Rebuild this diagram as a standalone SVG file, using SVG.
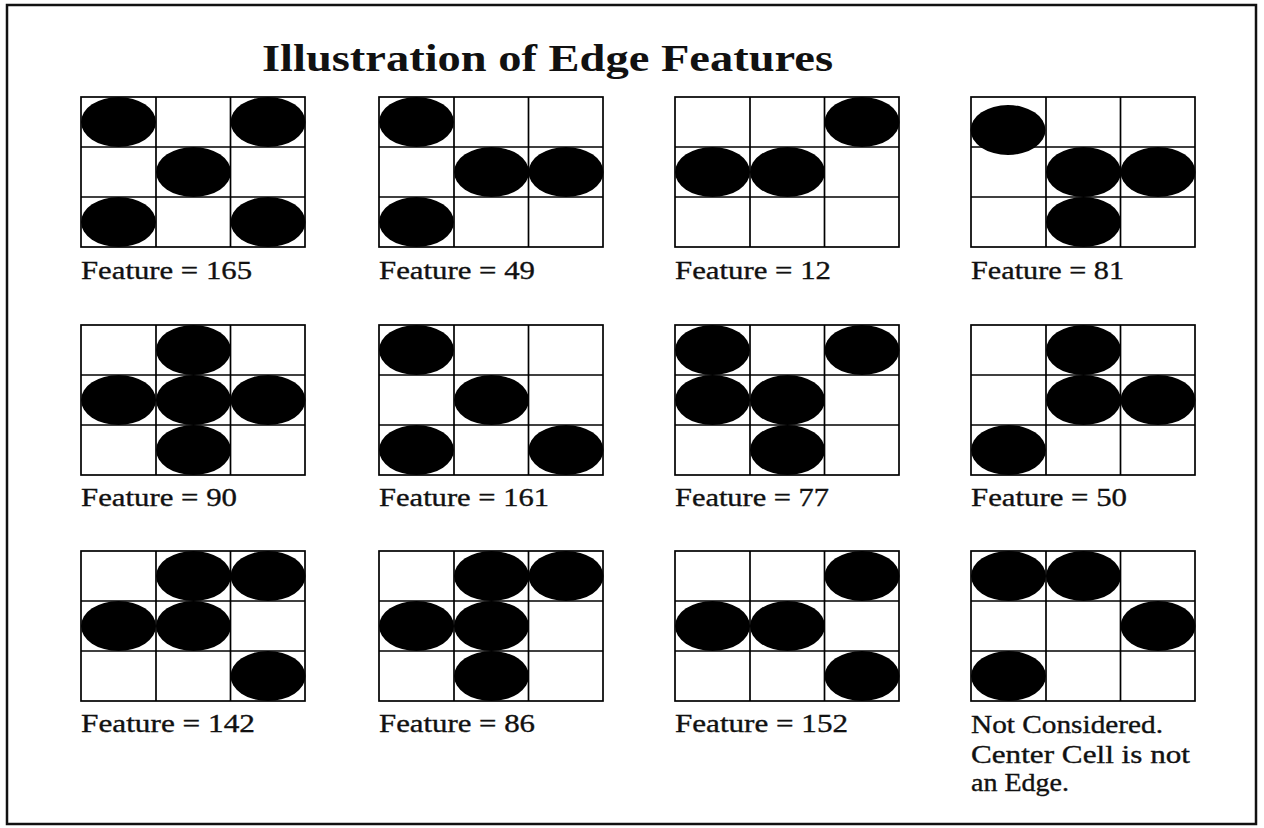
<svg xmlns="http://www.w3.org/2000/svg" width="1264" height="828" viewBox="0 0 1264 828">
<style>
.grid{fill:#fff;stroke:#000;stroke-width:1.7}
.gl{stroke:#000;stroke-width:1.7}
.dot{fill:#000}
.lbl{font-family:"Liberation Serif",serif;font-size:26px;fill:#111;stroke:#111;stroke-width:0.35}
.title{font-family:"Liberation Serif",serif;font-size:38px;font-weight:bold;fill:#111}
</style>
<defs>
<g id="g3">
<rect class="grid" x="0" y="0" width="224" height="150"/>
<line class="gl" x1="75" y1="0" x2="75" y2="150"/>
<line class="gl" x1="149.5" y1="0" x2="149.5" y2="150"/>
<line class="gl" x1="0" y1="50" x2="224" y2="50"/>
<line class="gl" x1="0" y1="100" x2="224" y2="100"/>
</g>
<ellipse id="d" class="dot" cx="0" cy="0" rx="37.5" ry="25"/>
</defs>
<rect x="0" y="0" width="1264" height="828" fill="#fff"/>
<rect x="7" y="5" width="1249" height="819" fill="none" stroke="#111" stroke-width="2.5"/>
<text class="title" x="262" y="71" textLength="571" lengthAdjust="spacingAndGlyphs">Illustration of Edge Features</text>

<g id="f165" transform="translate(81,97)">
<use href="#g3"/>
<use href="#d" x="37.5" y="25"/><use href="#d" x="187" y="25"/><use href="#d" x="112.5" y="75"/><use href="#d" x="37.5" y="125"/><use href="#d" x="187" y="125"/>
<text class="lbl" x="0" y="182" textLength="171" lengthAdjust="spacingAndGlyphs">Feature = 165</text>
</g>
<g id="f49" transform="translate(379,97)">
<use href="#g3"/>
<use href="#d" x="37.5" y="25"/><use href="#d" x="112.5" y="75"/><use href="#d" x="187" y="75"/><use href="#d" x="37.5" y="125"/>
<text class="lbl" x="0" y="182" textLength="156" lengthAdjust="spacingAndGlyphs">Feature = 49</text>
</g>
<g id="f12" transform="translate(675,97)">
<use href="#g3"/>
<use href="#d" x="187" y="25"/><use href="#d" x="37.5" y="75"/><use href="#d" x="112.5" y="75"/>
<text class="lbl" x="0" y="182" textLength="156" lengthAdjust="spacingAndGlyphs">Feature = 12</text>
</g>
<g id="f81" transform="translate(971,97)">
<use href="#g3"/>
<use href="#d" x="37" y="33"/><use href="#d" x="112.5" y="75"/><use href="#d" x="187" y="75"/><use href="#d" x="112.5" y="125"/>
<text class="lbl" x="0" y="182" textLength="153" lengthAdjust="spacingAndGlyphs">Feature = 81</text>
</g>

<g id="f90" transform="translate(81,325)">
<use href="#g3"/>
<use href="#d" x="112.5" y="25"/><use href="#d" x="37.5" y="75"/><use href="#d" x="112.5" y="75"/><use href="#d" x="187" y="75"/><use href="#d" x="112.5" y="125"/>
<text class="lbl" x="0" y="181" textLength="156" lengthAdjust="spacingAndGlyphs">Feature = 90</text>
</g>
<g id="f161" transform="translate(379,325)">
<use href="#g3"/>
<use href="#d" x="37.5" y="25"/><use href="#d" x="112.5" y="75"/><use href="#d" x="37.5" y="125"/><use href="#d" x="187" y="125"/>
<text class="lbl" x="0" y="181" textLength="170" lengthAdjust="spacingAndGlyphs">Feature = 161</text>
</g>
<g id="f77" transform="translate(675,325)">
<use href="#g3"/>
<use href="#d" x="37.5" y="25"/><use href="#d" x="187" y="25"/><use href="#d" x="37.5" y="75"/><use href="#d" x="112.5" y="75"/><use href="#d" x="112.5" y="125"/>
<text class="lbl" x="0" y="181" textLength="154" lengthAdjust="spacingAndGlyphs">Feature = 77</text>
</g>
<g id="f50" transform="translate(971,325)">
<use href="#g3"/>
<use href="#d" x="112.5" y="25"/><use href="#d" x="112.5" y="75"/><use href="#d" x="187" y="75"/><use href="#d" x="37.5" y="125"/>
<text class="lbl" x="0" y="181" textLength="156" lengthAdjust="spacingAndGlyphs">Feature = 50</text>
</g>

<g id="f142" transform="translate(81,551)">
<use href="#g3"/>
<use href="#d" x="112.5" y="25"/><use href="#d" x="187" y="25"/><use href="#d" x="37.5" y="75"/><use href="#d" x="112.5" y="75"/><use href="#d" x="187" y="125"/>
<text class="lbl" x="0" y="181" textLength="174" lengthAdjust="spacingAndGlyphs">Feature = 142</text>
</g>
<g id="f86" transform="translate(379,551)">
<use href="#g3"/>
<use href="#d" x="112.5" y="25"/><use href="#d" x="187" y="25"/><use href="#d" x="37.5" y="75"/><use href="#d" x="112.5" y="75"/><use href="#d" x="112.5" y="125"/>
<text class="lbl" x="0" y="181" textLength="156" lengthAdjust="spacingAndGlyphs">Feature = 86</text>
</g>
<g id="f152" transform="translate(675,551)">
<use href="#g3"/>
<use href="#d" x="187" y="25"/><use href="#d" x="37.5" y="75"/><use href="#d" x="112.5" y="75"/><use href="#d" x="187" y="125"/>
<text class="lbl" x="0" y="181" textLength="173" lengthAdjust="spacingAndGlyphs">Feature = 152</text>
</g>
<g id="fnot" transform="translate(971,551)">
<use href="#g3"/>
<use href="#d" x="37.5" y="25"/><use href="#d" x="112.5" y="25"/><use href="#d" x="187" y="75"/><use href="#d" x="37.5" y="125"/>
<text class="lbl" x="0" y="182" textLength="192" lengthAdjust="spacingAndGlyphs">Not Considered.</text>
<text class="lbl" x="0" y="212" textLength="219" lengthAdjust="spacingAndGlyphs">Center Cell is not</text>
<text class="lbl" x="0" y="240" textLength="98" lengthAdjust="spacingAndGlyphs">an Edge.</text>
</g>
</svg>
